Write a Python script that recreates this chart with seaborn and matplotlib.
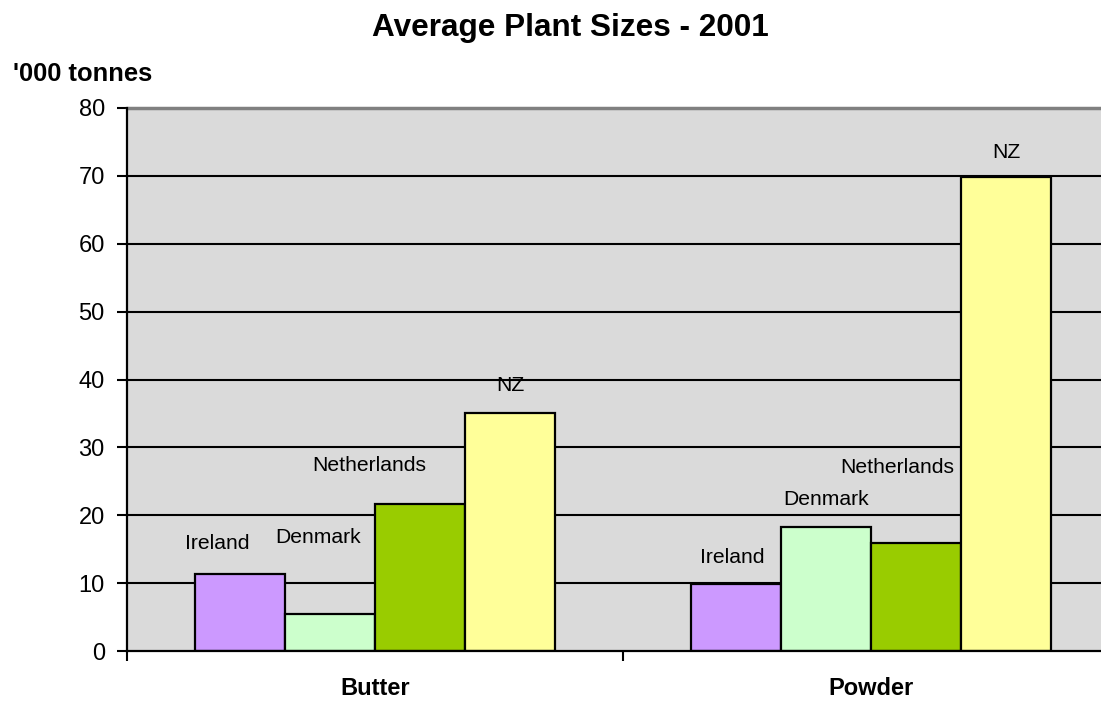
import matplotlib
matplotlib.use("Agg")
import matplotlib.pyplot as plt
import seaborn as sns
import pandas as pd

# Average plant sizes ('000 tonnes), 2001
products = ["Butter", "Powder"]
countries = ["Ireland", "Denmark", "Netherlands", "NZ"]
butter = [11.4, 5.5, 21.7, 35.0]
powder = [9.9, 18.2, 15.9, 69.8]
colors = ["#CC99FF", "#CCFFCC", "#99CC00", "#FFFF99"]
y_ticks = [0, 10, 20, 30, 40, 50, 60, 70, 80]

df = pd.DataFrame({
    "product": [p for p in products for _ in countries],
    "country": countries * len(products),
    "size": butter + powder,
})

# label offsets (pixels) from the top centre of each bar, per product
label_offsets = {
    "Butter": [(-23, 30), (-12, 76), (-51, 38), (0, 28)],
    "Powder": [(-4, 26), (0, 28), (-19, 76), (0, 25)],
}

sns.set_theme(style="white")
plt.rcParams["font.family"] = ["Liberation Sans", "DejaVu Sans"]
plt.rcParams["text.color"] = "black"
plt.rcParams["xtick.color"] = "black"
plt.rcParams["ytick.color"] = "black"

fig = plt.figure(figsize=(11.01, 7.01), dpi=100)
ax = fig.add_axes([127 / 1101, 1 - 651 / 701, 1 - 127 / 1101, (651 - 108) / 701])
ax.set_facecolor("#dadada")

sns.barplot(
    data=df, x="product", y="size", hue="country",
    hue_order=countries, order=products,
    palette=colors, saturation=1, width=0.726, gap=0,
    edgecolor="black", linewidth=1.6, legend=False, ax=ax, zorder=3,
)

ax.set_yticks(y_ticks)
ax.set_yticklabels([str(t) for t in y_ticks], fontsize=17)
for t in y_ticks[1:-1]:
    ax.axhline(t, color="black", linewidth=1.5, zorder=1)
ax.axhline(80, color="#808080", linewidth=2.5, zorder=2, clip_on=False)

ax.set_xticks(range(len(products)))
ax.set_xticklabels(products, fontsize=17, fontweight="bold")
ax.set_xticks([-0.5, 0.5, 1.5], minor=True)
ax.set_xlim(-0.5, 1.464)
ax.set_ylim(0, 80)
ax.tick_params(axis="x", which="major", length=0, pad=19, bottom=True)
ax.tick_params(axis="x", which="minor", length=7, width=1.5, color="black",
               direction="out", bottom=True)
ax.tick_params(axis="y", length=7, width=1.5, color="black", direction="out", pad=9, left=True)
ax.set_xlabel("")
ax.set_ylabel("")

for side in ["top", "right"]:
    ax.spines[side].set_visible(False)
for side in ["left", "bottom"]:
    ax.spines[side].set_color("black")
    ax.spines[side].set_linewidth(1.6)
    ax.spines[side].set_zorder(4)

# series name labels above each bar
for ci, container in enumerate(ax.containers):
    for pi, bar in enumerate(container):
        dx, dy = label_offsets[products[pi]][ci]
        ax.annotate(
            countries[ci],
            xy=(bar.get_x() + bar.get_width() / 2, bar.get_height()),
            xytext=(dx, dy), textcoords="offset pixels",
            ha="center", va="center", fontsize=15.2, color="black", zorder=5,
        )

fig.text(570 / 1101, 1 - 28 / 701, "Average Plant Sizes - 2001",
         ha="center", va="center", fontsize=22.7, fontweight="bold")
fig.text(13 / 1101, 1 - 74 / 701, "'000 tonnes",
         ha="left", va="center", fontsize=18.4, fontweight="bold")

fig.savefig("out.png", dpi=100)
